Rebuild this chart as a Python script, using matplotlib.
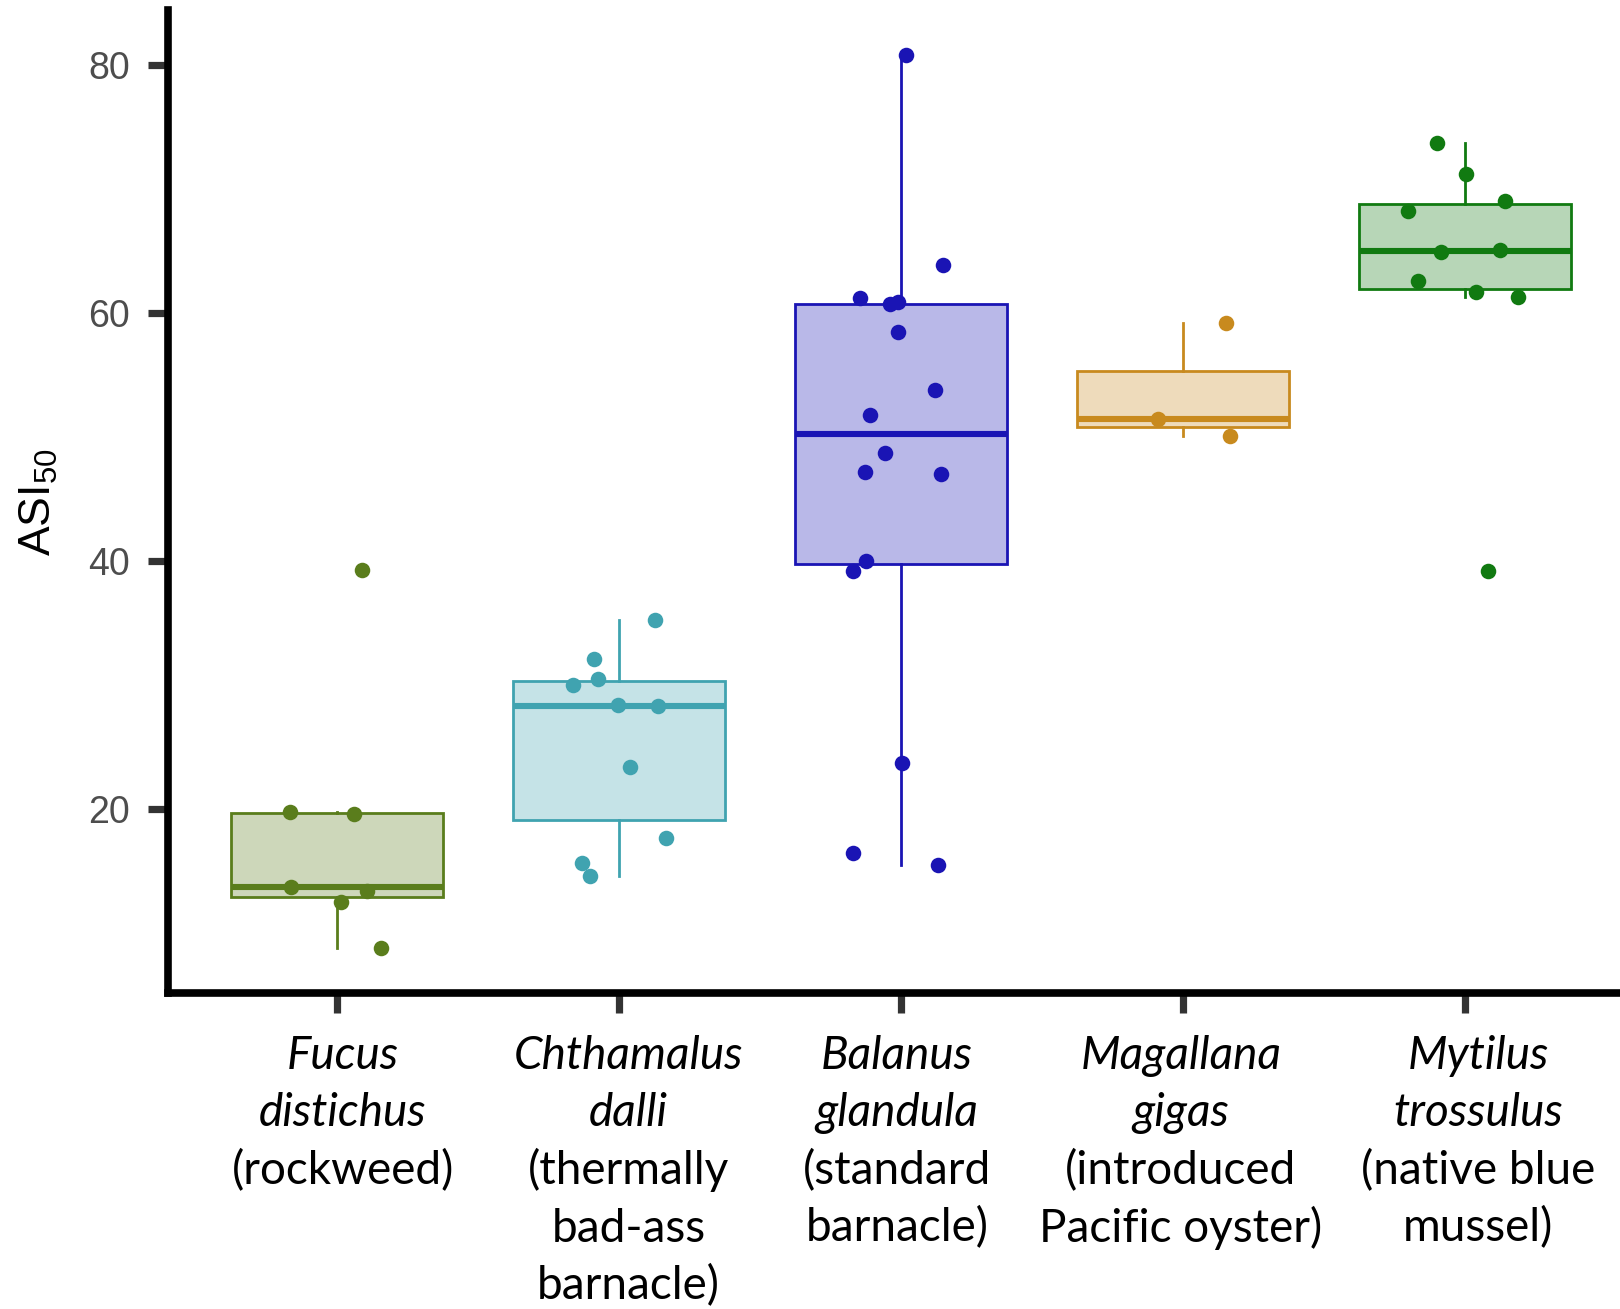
import matplotlib
matplotlib.use("Agg")
import matplotlib.pyplot as plt
import matplotlib.transforms as mtransforms
from matplotlib.colors import to_rgba

plt.rcParams['font.family'] = ['Liberation Sans', 'DejaVu Sans']
plt.rcParams['mathtext.default'] = 'regular'

# ASI50 per replicate, with the horizontal jitter of each plotted point
fucus_asi = [19.8, 19.6, 13.75, 13.4, 12.5, 8.8, 39.3]
fucus_jit = [-0.168, 0.059, -0.165, 0.106, 0.015, 0.154, 0.088]

chthamalus_asi = [35.25, 32.1, 30.5, 30.0, 28.4, 28.3, 23.4, 17.7, 15.7, 14.6]
chthamalus_jit = [0.128, -0.088, -0.073, -0.165, -0.004, 0.139, 0.040, 0.165, -0.132, -0.103]

balanus_asi = [80.8, 63.9, 61.25, 60.7, 60.9, 58.5, 53.8, 51.8, 48.7, 47.2, 47.0,
               40.0, 39.25, 23.7, 16.5, 15.5]
balanus_jit = [0.018, 0.150, -0.147, -0.040, -0.011, -0.011, 0.121, -0.110, -0.055,
               -0.128, 0.143, -0.125, -0.172, 0.004, -0.172, 0.132]

magallana_asi = [59.2, 51.5, 50.1]
magallana_jit = [0.154, -0.088, 0.168]

mytilus_asi = [73.7, 71.2, 69.0, 68.2, 64.9, 65.1, 62.6, 61.7, 61.3, 39.2]
mytilus_jit = [-0.099, 0.004, 0.143, -0.201, -0.084, 0.125, -0.165, 0.040, 0.187, 0.081]

groups = [fucus_asi, chthamalus_asi, balanus_asi, magallana_asi, mytilus_asi]
jitters = [fucus_jit, chthamalus_jit, balanus_jit, magallana_jit, mytilus_jit]
colors = ['#5a7d1c', '#40a3b0', '#1a14b4', '#c88a1e', '#117a11']

# species name (italic) and common name lines under each box
species_lines = [['Fucus', 'distichus'], ['Chthamalus', 'dalli'], ['Balanus', 'glandula'],
                 ['Magallana', 'gigas'], ['Mytilus', 'trossulus']]
common_lines = [['(rockweed)'], ['(thermally', 'bad-ass', 'barnacle)'],
                ['(standard', 'barnacle)'], ['(introduced', 'Pacific oyster)'],
                ['(native blue', 'mussel)']]
label_shift = [0.02, 0.033, -0.015, -0.007, 0.048]

W, H = 1620, 1309
fig = plt.figure(figsize=(W / 100, H / 100), dpi=100)
ax = fig.add_axes([168 / W, 1 - 993 / H, 1466 / W, (993 - 10.4) / H])

positions = list(range(1, len(groups) + 1))
bp = ax.boxplot(groups, positions=positions, widths=0.75, patch_artist=True,
                showfliers=False, showcaps=False, whis=1.5, zorder=2)

for i, c in enumerate(colors):
    box = bp['boxes'][i]
    box.set_facecolor(to_rgba(c, 0.3))
    box.set_edgecolor(c)
    box.set_linewidth(2.0)
    bp['medians'][i].set_color(c)
    bp['medians'][i].set_linewidth(4.4)
    for w in bp['whiskers'][2 * i:2 * i + 2]:
        w.set_color(c)
        w.set_linewidth(2.0)

for p, vals, jit, c in zip(positions, groups, jitters, colors):
    ax.scatter([p + j for j in jit], vals, s=125, color=c, linewidths=0, zorder=3)

ax.set_xlim(0.4, 5.6)
ax.set_ylim(5.2, 84.4)
ax.set_yticks([20, 40, 60, 80])
ax.set_xticks(positions, [''] * len(positions))

for side in ['top', 'right']:
    ax.spines[side].set_visible(False)
for side in ['left', 'bottom']:
    ax.spines[side].set_linewidth(5.5)
    ax.spines[side].set_color('black')
    ax.spines[side].set_capstyle('projecting')

ax.tick_params(axis='both', length=14.5, width=5.2, color='#333333',
               labelsize=27, labelcolor='#4d4d4d', pad=13)

fig.text(39 / W, 1 - 502 / H, 'ASI$_{50}$', rotation=90, ha='center', va='center',
         fontsize=32, color='black')

# category labels, one text per line
trans = mtransforms.blended_transform_factory(ax.transData, fig.transFigure)
first_baseline, line_step = 1069, 57.5
for p, dx, sp, cm in zip(positions, label_shift, species_lines, common_lines):
    for k, line in enumerate(sp + cm):
        ax.text(p + dx, 1 - (first_baseline + k * line_step) / H, line, transform=trans,
                ha='center', va='baseline', fontsize=33, family=['Lato', 'DejaVu Sans'],
                style='italic' if k < len(sp) else 'normal', color='black')

fig.savefig('out.png', dpi=100)
